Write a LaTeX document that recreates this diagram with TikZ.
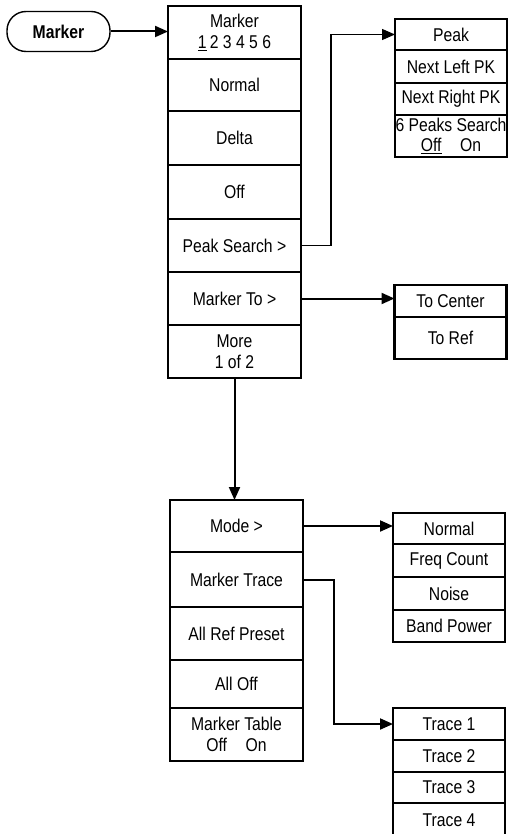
\documentclass[tikz,border=0pt]{standalone}
\usepackage{fontspec}
\setmainfont{Liberation Sans}
\newfontfamily\keyface[FakeStretch=0.85]{Liberation Sans}
\usetikzlibrary{positioning, arrows.meta}
\newcommand{\keyfont}{\keyface\fontsize{18.5}{20.5}\selectfont}

\tikzset{
  menukey/.style={draw, line width=2.2pt, inner sep=0pt, outer sep=0pt,
    align=center, font=\keyfont},
  mainkey/.style={menukey, minimum width=133},
  subkey/.style={menukey, minimum width=112},
  hardkey/.style={draw, line width=1.4pt, rounded corners=19pt, minimum width=103,
    minimum height=40, font=\keyfont\bfseries},
  link/.style={line width=2pt, -{Triangle[length=13pt,width=11pt]}},
}

\begin{document}
\begin{tikzpicture}[x=1pt, y=-1pt]
    \useasboundingbox (0,0) rectangle (508,834);

    % hard key
    \node[hardkey] (mbtn) at (58.5,31.5) {Marker};

    % first menu page
    \node[mainkey, minimum height=53, anchor=north west] (mkr) at (168,6) {Marker\\\underline{1}\,2 3 4 5 6};
    \node[mainkey, minimum height=52, below=0pt of mkr] (mnorm) {Normal};
    \node[mainkey, minimum height=54, below=0pt of mnorm] (delta) {Delta};
    \node[mainkey, minimum height=54, below=0pt of delta] (moff) {Off};
    \node[mainkey, minimum height=53, below=0pt of moff] (pks) {Peak Search >};
    \node[mainkey, minimum height=53, below=0pt of pks] (mto) {Marker To >};
    \node[mainkey, minimum height=53, below=0pt of mto] (more) {More\\1 of 2};

    % peak search
    \node[subkey, minimum height=31, anchor=north west] (peak) at (395,19) {Peak};
    \node[subkey, minimum height=33, below=0pt of peak] (nlpk) {Next Left PK};
    \node[subkey, minimum height=32, below=0pt of nlpk] (nrpk) {Next Right PK};
    \node[subkey, minimum height=42, below=0pt of nrpk] (sixpk) {6 Peaks Search\\\underline{Off}\quad On};

    % marker to
    \node[subkey, minimum height=32, anchor=north west] (tocen) at (394.5,285) {To Center};
    \node[subkey, minimum height=42, below=0pt of tocen] (toref) {To Ref};

    % second menu page
    \node[mainkey, minimum height=52, anchor=north west] (mode) at (170,500) {Mode >};
    \node[mainkey, minimum height=55, below=0pt of mode] (mtrace) {Marker Trace};
    \node[mainkey, minimum height=53, below=0pt of mtrace] (refpre) {All Ref Preset};
    \node[mainkey, minimum height=48, below=0pt of refpre] (alloff) {All Off};
    \node[mainkey, minimum height=53, below=0pt of alloff] (mtable) {Marker Table\\Off\quad On};

    % mode
    \node[subkey, minimum height=31, anchor=north west] (cnorm) at (393,513) {Normal};
    \node[subkey, minimum height=33, below=0pt of cnorm] (fcount) {Freq Count};
    \node[subkey, minimum height=33, below=0pt of fcount] (noise) {Noise};
    \node[subkey, minimum height=32, below=0pt of noise] (bpow) {Band Power};

    % marker trace
    \node[subkey, minimum height=32, anchor=north west] (tr1) at (393,708) {Trace 1};
    \node[subkey, minimum height=32, below=0pt of tr1] (tr2) {Trace 2};
    \node[subkey, minimum height=31, below=0pt of tr2] (tr3) {Trace 3};
    \node[subkey, minimum height=34, below=0pt of tr3] (tr4) {Trace 4};

    % connectors
    \draw[link] (mbtn.east) -- (mbtn.east -| mkr.west);
    \draw[link, line width=1.3pt] (pks.east) -- ++(30,0) |- (peak.west);
    \draw[link] (mto.east) -- (mto.east -| tocen.west);
    \draw[link] (more.south) -- (more.south |- mode.north);
    \draw[link] (mode.east) -- (mode.east -| cnorm.west);
    \draw[link] (mtrace.east) -- ++(31,0) |- (tr1.west);
\end{tikzpicture}
\end{document}
